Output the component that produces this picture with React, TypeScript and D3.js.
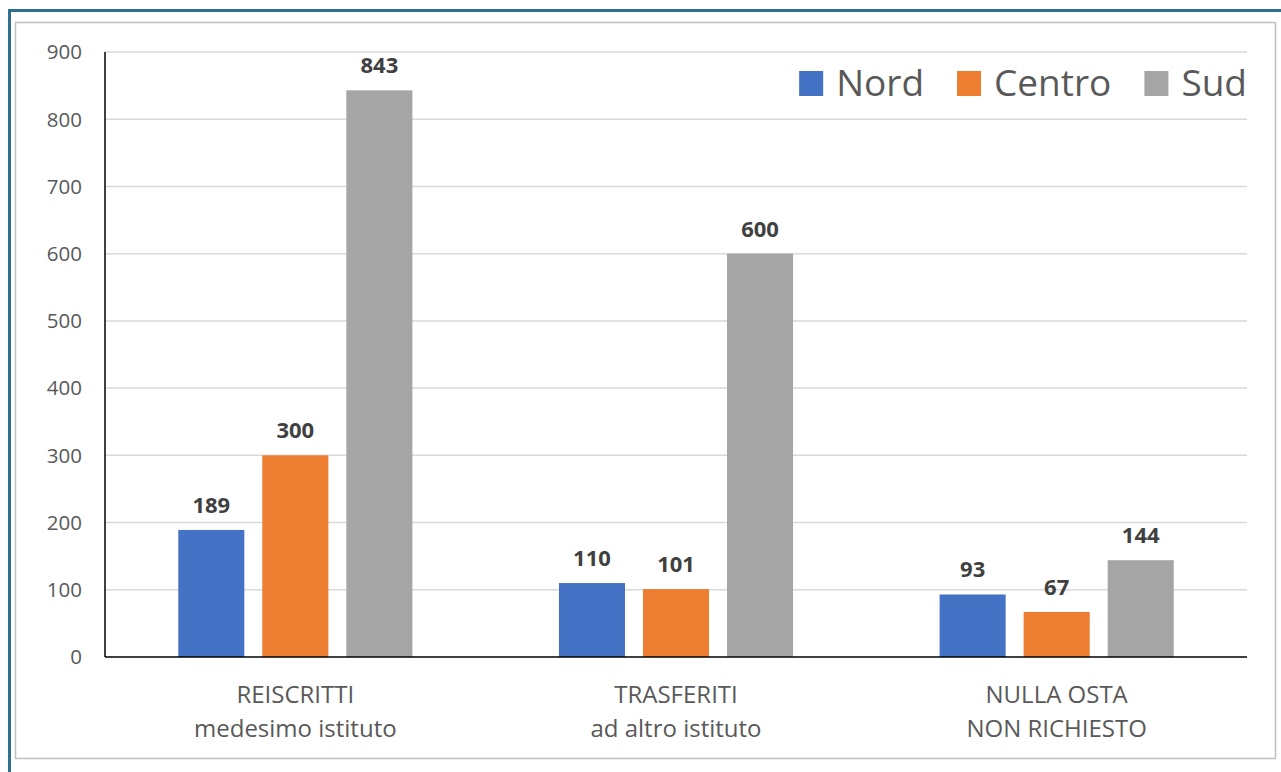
import React, { useEffect, useRef } from "react";
import * as d3 from "d3";

const categories = [
  ["REISCRITTI", "medesimo istituto"],
  ["TRASFERITI", "ad altro istituto"],
  ["NULLA OSTA", "NON RICHIESTO"],
];
const seriesNames = ["Nord", "Centro", "Sud"];
const nordValues = [189, 110, 93];
const centroValues = [300, 101, 67];
const sudValues = [843, 600, 144];
const yTicks = [0, 100, 200, 300, 400, 500, 600, 700, 800, 900];
const colors = ["#4472C4", "#ED7D31", "#A5A5A5"];

const W = 1281;
const H = 772;
const FONT = "'Open Sans', sans-serif";

const App = () => {
  const ref = useRef<SVGSVGElement>(null);

  useEffect(() => {
    draw();
  });

  const draw = () => {
    const svg = d3.select(ref.current);
    svg.selectAll("*").remove();

    const left = 105;
    const right = 1247;
    const top = 52;
    const bottom = 657;

    // outer frame (only top and left edges are inside the window)
    svg
      .append("path")
      .attr("d", "M9.5,772 L9.5,10.5 L1281,10.5")
      .attr("fill", "none")
      .attr("stroke", "#2F6F91")
      .attr("stroke-width", 3);
    svg
      .append("rect")
      .attr("x", 15.5)
      .attr("y", 22.5)
      .attr("width", 1260)
      .attr("height", 736)
      .attr("fill", "#fff")
      .attr("stroke", "#BFBFBF")
      .attr("stroke-width", 1.5);

    const x0 = d3
      .scaleBand<number>()
      .domain(d3.range(categories.length))
      .range([left, right])
      .paddingInner(0.385)
      .paddingOuter(0.1925);
    const x1 = d3
      .scaleBand<number>()
      .domain(d3.range(seriesNames.length))
      .range([0, x0.bandwidth()])
      .paddingInner(0.214);
    const y = d3.scaleLinear().domain([0, 900]).range([bottom, top]);

    // gridlines
    svg
      .append("g")
      .selectAll("line")
      .data(yTicks.filter((t) => t > 0))
      .join("line")
      .attr("x1", left)
      .attr("x2", right)
      .attr("y1", (d) => y(d))
      .attr("y2", (d) => y(d))
      .attr("stroke", "#D9D9D9")
      .attr("stroke-width", 1.5);

    // y tick labels
    svg
      .append("g")
      .selectAll("text")
      .data(yTicks)
      .join("text")
      .attr("x", 82)
      .attr("y", (d) => y(d))
      .attr("dy", "0.36em")
      .attr("text-anchor", "end")
      .attr("font-family", FONT)
      .attr("font-size", 20.5)
      .attr("fill", "#595959")
      .text((d) => d);

    const allSeries = [nordValues, centroValues, sudValues];
    const g = svg.append("g");
    categories.forEach((_, ci) => {
      const gx = x0(ci) as number;
      allSeries.forEach((vals, si) => {
        const bx = gx + (x1(si) as number);
        g.append("rect")
          .attr("x", bx)
          .attr("y", y(vals[ci]))
          .attr("width", x1.bandwidth())
          .attr("height", bottom - y(vals[ci]))
          .attr("fill", colors[si]);
        g.append("text")
          .attr("x", bx + x1.bandwidth() / 2)
          .attr("y", y(vals[ci]) - 17)
          .attr("text-anchor", "middle")
          .attr("font-family", FONT)
          .attr("font-weight", "bold")
          .attr("font-size", 22)
          .attr("fill", "#404040")
          .text(vals[ci]);
      });
      const cx = gx + x0.bandwidth() / 2;
      categories[ci].forEach((line, li) => {
        svg
          .append("text")
          .attr("x", cx)
          .attr("y", 703 + li * 34)
          .attr("text-anchor", "middle")
          .attr("font-family", FONT)
          .attr("font-size", 24)
          .attr("fill", "#595959")
          .text(line);
      });
    });

    // axes
    svg
      .append("line")
      .attr("x1", left)
      .attr("x2", left)
      .attr("y1", top)
      .attr("y2", bottom)
      .attr("stroke", "#000")
      .attr("stroke-width", 1.5);
    svg
      .append("line")
      .attr("x1", left)
      .attr("x2", right)
      .attr("y1", bottom)
      .attr("y2", bottom)
      .attr("stroke", "#000")
      .attr("stroke-width", 1.5);

    // legend, laid out from the right edge
    const legend = svg.append("g");
    let cursor = right;
    const items = seriesNames.map((name, i) => ({ name, color: colors[i] }));
    for (let i = items.length - 1; i >= 0; i--) {
      const t = legend
        .append("text")
        .attr("y", 83)
        .attr("dy", "0.36em")
        .attr("font-family", FONT)
        .attr("font-size", 37)
        .attr("fill", "#595959")
        .text(items[i].name);
      const w = (t.node() as SVGTextElement).getComputedTextLength();
      t.attr("x", cursor - w);
      legend
        .append("rect")
        .attr("x", cursor - w - 37)
        .attr("y", 71)
        .attr("width", 24)
        .attr("height", 25)
        .attr("fill", items[i].color);
      cursor = cursor - w - 37 - 33;
    }
  };

  return (
    <svg
      ref={ref}
      width={W}
      height={H}
      style={{ position: "absolute", left: 0, top: 0, display: "block" }}
    />
  );
};

export default App;
